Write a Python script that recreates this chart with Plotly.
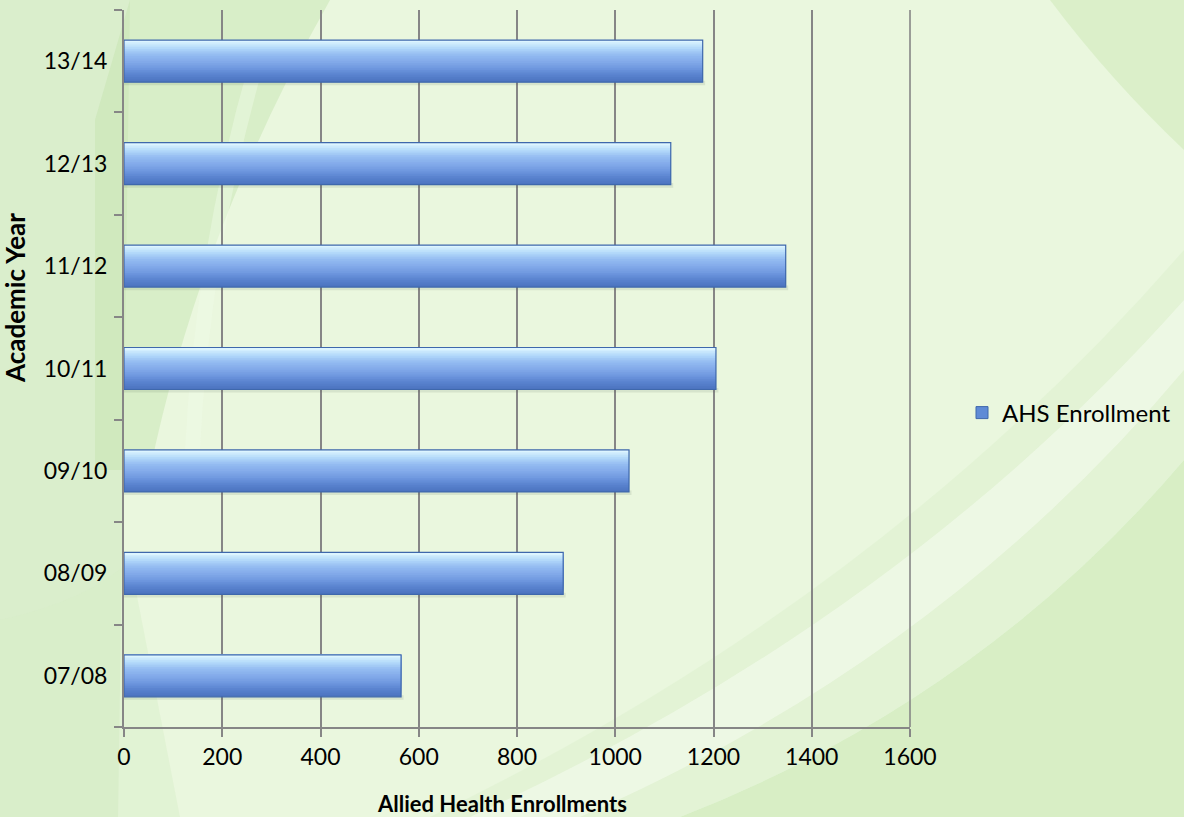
import plotly.graph_objects as go

# Academic years (bottom to top) and Allied Health enrollments
years = ["07/08", "08/09", "09/10", "10/11", "11/12", "12/13", "13/14"]
enrollments = [564, 894, 1028, 1205, 1347, 1113, 1178]
x_ticks = [0, 200, 400, 600, 800, 1000, 1200, 1400, 1600]
series_name = "AHS Enrollment"
x_title = "Allied Health Enrollments"
y_title = "Academic Year"

W, H = 1184, 817
ML, MR, MT, MB = 124, 274, 10, 90
PW, PH = W - ML - MR, H - MT - MB


def px(x, y):
    """Pixel position on the page -> paper coordinates."""
    return (x - ML) / PW, (H - MB - y) / PH


def path(cmds):
    """SVG path in paper coordinates from (op, points...) tuples in pixels."""
    out = []
    for c in cmds:
        op, pts = c[0], c[1:]
        s = op
        for (x, y) in pts:
            u, v = px(x, y)
            s += f"{u:.4f},{v:.4f} "
        out.append(s.strip())
    return " ".join(out) + " Z"


def hex2rgb(h):
    h = h.lstrip("#")
    return [int(h[i:i + 2], 16) for i in (0, 2, 4)]


def blend(stops, steps):
    """Evenly spaced colours along a list of hex colour stops."""
    out = []
    for i in range(steps):
        t = i / (steps - 1) * (len(stops) - 1)
        j = min(int(t), len(stops) - 2)
        f = t - j
        a, b = hex2rgb(stops[j]), hex2rgb(stops[j + 1])
        c = [round(a[m] + (b[m] - a[m]) * f) for m in range(3)]
        out.append("#%02X%02X%02X" % tuple(c))
    return out


fig = go.Figure()

# Bars: overlapping layers, darkest full-height first, lighter ones covering
# progressively smaller top portions -> glossy vertical gradient
grad = blend(["#DDF5FF", "#B4DAFA", "#94BCF2", "#84ABEA", "#7099E0", "#5A83CF", "#4C74C0"], 24)
n = len(grad)
bw = 0.41

# soft drop shadow under each bar
fig.add_trace(go.Bar(
    y=years, x=[v + 5 for v in enrollments], orientation="h",
    width=0.045, offset=-bw / 2 - 0.03,
    marker=dict(color="rgba(70,90,70,0.12)", line=dict(width=0)),
    showlegend=False, hoverinfo="skip",
))

for k in range(n - 1, -1, -1):
    depth = (k + 1) * bw / n
    fig.add_trace(go.Bar(
        y=years, x=enrollments, orientation="h",
        width=depth, offset=bw / 2 - depth,
        marker=dict(color=grad[k], line=dict(width=0)),
        showlegend=False, hoverinfo="skip",
    ))

# outline
fig.add_trace(go.Bar(
    y=years, x=enrollments, orientation="h", name=series_name,
    width=bw, offset=-bw / 2,
    marker=dict(color="rgba(0,0,0,0)", line=dict(color="#3F68AC", width=1.2)),
    showlegend=False,
))
# legend entry
fig.add_trace(go.Bar(
    y=[None], x=[None], orientation="h", name=series_name,
    marker=dict(color="#5F8BD6", line=dict(color="#3F68AC", width=1)),
    showlegend=True,
))

# soft green decorative background
shapes = [
    # left edge tint
    dict(type="path", path=path([("M", (0, 0)), ("L", (130, 0)), ("L", (118, 817)), ("L", (0, 817))]),
         fillcolor="#C9E6BA", opacity=0.5),
    # darker diagonal wedge, upper-left
    dict(type="path", path=path([("M", (130, 0)), ("L", (330, 0)),
                                 ("Q", (200, 230), (150, 470)),
                                 ("L", (95, 470)), ("L", (95, 120))]),
         fillcolor="#C3E2AE", opacity=0.45),
    # lighter streak inside the wedge
    dict(type="path", path=path([("M", (250, 60)), ("Q", (195, 250), (185, 450)),
                                 ("L", (200, 450)), ("Q", (210, 250), (265, 60))]),
         fillcolor="#EFFAE6", opacity=0.45),
    # top-right corner tint
    dict(type="path", path=path([("M", (1050, 0)), ("L", (1184, 0)), ("L", (1184, 150)),
                                 ("Q", (1110, 80), (1050, 0))]),
         fillcolor="#CDEAB8", opacity=0.55),
    # lower-right darker sweep
    dict(type="path", path=path([("M", (680, 817)), ("Q", (980, 700), (1184, 460)),
                                 ("L", (1184, 817))]),
         fillcolor="#C8E8B0", opacity=0.55),
    # mid green band between the light swoosh and the edge
    dict(type="path", path=path([("M", (430, 817)), ("Q", (880, 600), (1184, 250)),
                                 ("L", (1184, 460)), ("Q", (980, 700), (680, 817))]),
         fillcolor="#DDF1CE", opacity=0.55),
    # light swoosh
    dict(type="path", path=path([("M", (470, 817)), ("Q", (900, 620), (1184, 300)),
                                 ("L", (1184, 370)), ("Q", (940, 660), (580, 817))]),
         fillcolor="#F3FBEC", opacity=0.65),
    # bottom-left tint
    dict(type="path", path=path([("M", (0, 620)), ("Q", (90, 600), (130, 560)),
                                 ("L", (180, 817)), ("L", (0, 817))]),
         fillcolor="#D6EDC8", opacity=0.45),
]
for s in shapes:
    s.update(xref="paper", yref="paper", layer="below", line=dict(width=0))

font_family = "Lato, 'Open Sans', sans-serif"

xt_x, xt_y = px(502, 803)
yt_x, yt_y = px(15, 298)

fig.update_layout(
    width=W, height=H,
    margin=dict(l=ML, r=MR, t=MT, b=MB, pad=0, autoexpand=False),
    paper_bgcolor="#EAF7DE",
    plot_bgcolor="rgba(0,0,0,0)",
    barmode="overlay",
    shapes=shapes,
    font=dict(family=font_family, size=23, color="#000000"),
    showlegend=True,
    legend=dict(
        x=px(962, 0)[0], y=px(0, 413)[1], xanchor="left", yanchor="middle",
        bgcolor="rgba(0,0,0,0)", font=dict(size=24),
        itemwidth=30,
    ),
    xaxis=dict(
        range=[0, 1600], tickvals=x_ticks, ticktext=[str(t) for t in x_ticks],
        showgrid=True, gridcolor="#868686", gridwidth=1.5,
        showline=True, linecolor="#868686", linewidth=2,
        ticks="outside", ticklen=8, tickcolor="#868686", tickwidth=2,
        zeroline=False, fixedrange=True,
    ),
    yaxis=dict(
        type="category", categoryorder="array", categoryarray=years,
        range=[-0.5, len(years) - 0.5],
        showgrid=False,
        showline=True, linecolor="#868686", linewidth=2,
        ticks="outside", tickson="boundaries", ticklen=8,
        tickcolor="#868686", tickwidth=2,
        ticklabelstandoff=10,
        fixedrange=True,
    ),
    annotations=[
        dict(text=f"<b>{x_title}</b>", x=xt_x, y=xt_y, xref="paper", yref="paper",
             xanchor="center", yanchor="middle", showarrow=False,
             font=dict(size=22)),
        dict(text=f"<b>{y_title}</b>", x=yt_x, y=yt_y, xref="paper", yref="paper",
             xanchor="center", yanchor="middle", showarrow=False, textangle=-90,
             font=dict(size=26)),
    ],
)

# right-hand boundary line of the plot area (at 1600)
fig.add_shape(type="line", xref="paper", yref="paper", x0=1, x1=1, y0=0, y1=1,
              line=dict(color="#868686", width=1.6), layer="above")

fig.write_html("out.html")
